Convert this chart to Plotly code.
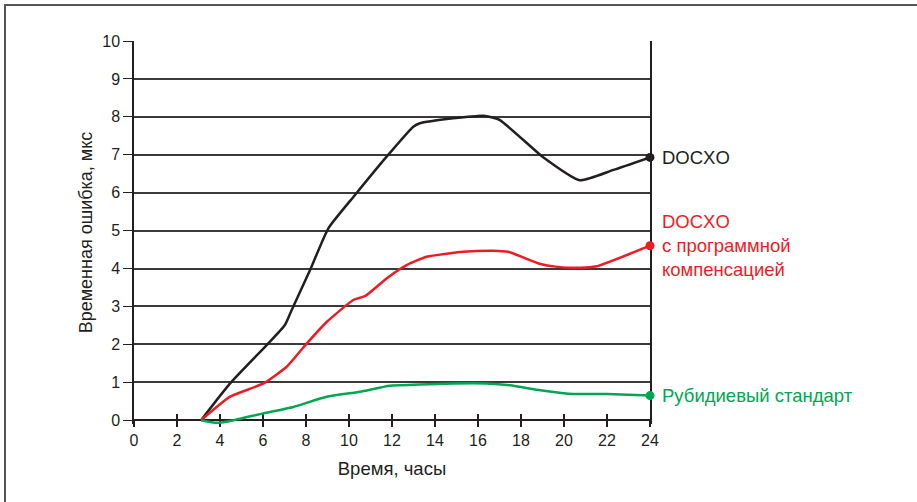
import plotly.graph_objects as go

docxo_x = [3.12, 4.47, 6.17, 7.02, 7.33, 8.19, 9.04, 10.28, 11.75, 12.99, 13.3, 14.85, 16.25, 17.0, 19.0, 20.74, 22.3, 24.0]
docxo_y = [0.0, 0.97, 1.98, 2.51, 2.9, 3.96, 5.06, 5.94, 6.95, 7.74, 7.83, 7.96, 8.03, 7.92, 6.95, 6.33, 6.6, 6.93]

comp_x = [3.12, 4.47, 6.02, 7.1, 8.03, 8.96, 10.2, 10.74, 11.75, 12.68, 13.61, 15.32, 16.71, 17.4, 18.9, 19.6, 20.74, 21.52, 24.0]
comp_y = [0.0, 0.62, 0.97, 1.41, 2.02, 2.59, 3.17, 3.27, 3.74, 4.09, 4.31, 4.44, 4.47, 4.44, 4.12, 4.05, 4.02, 4.06, 4.6]

rb_x = [3.12, 3.85, 4.47, 6.02, 7.41, 8.96, 10.51, 11.9, 13.3, 14.85, 16.4, 17.49, 18.9, 20.2, 22.0, 24.0]
rb_y = [0.0, -0.07, -0.02, 0.18, 0.35, 0.62, 0.75, 0.91, 0.94, 0.97, 0.97, 0.92, 0.79, 0.70, 0.69, 0.65]

x_ticks = list(range(0, 25, 2))
y_ticks = list(range(0, 11))

FONT = "Liberation Sans, Arial, sans-serif"
LABEL_SIZE = 18.5
Y_MIN = -0.1
XPOS = (0 - Y_MIN) / (10 - Y_MIN)

fig = go.Figure()
series = [
    (docxo_x, docxo_y, "#231f20"),
    (comp_x, comp_y, "#ed1c24"),
    (rb_x, rb_y, "#00a651"),
]
for xs, ys, c in series:
    fig.add_trace(go.Scatter(x=xs, y=ys, mode="lines", line=dict(color=c, width=2.5, shape="spline", smoothing=0.5),
                             hoverinfo="skip", showlegend=False, cliponaxis=False))
    fig.add_trace(go.Scatter(x=[xs[-1]], y=[ys[-1]], mode="markers", marker=dict(color=c, size=9),
                             showlegend=False, cliponaxis=False))

# invisible trace for overlay axis (inner tick marks)
fig.add_trace(go.Scatter(x=[0, 24], y=[0, 0], xaxis="x2", mode="lines", line=dict(width=0), opacity=0,
                         showlegend=False, hoverinfo="skip"))

fig.add_annotation(x=24, y=docxo_y[-1], text="DOCXO", xanchor="left", yanchor="middle", xshift=10,
                   showarrow=False, font=dict(color="#231f20", size=LABEL_SIZE, family=FONT))
fig.add_annotation(x=24, y=comp_y[-1], text="DOCXO<br>с программной<br>компенсацией", xanchor="left",
                   yanchor="middle", xshift=10, align="left", showarrow=False,
                   font=dict(color="#ed1c24", size=LABEL_SIZE, family=FONT))
fig.add_annotation(x=24, y=rb_y[-1], text="Рубидиевый стандарт", xanchor="left", yanchor="middle", xshift=10,
                   showarrow=False, font=dict(color="#00a651", size=LABEL_SIZE, family=FONT))

# figure frame (top & left edges visible)
fig.add_shape(type="rect", xref="paper", yref="paper", x0=(5 - 134) / 516, x1=2.0,
              y0=-1.0, y1=(424 - 5) / 383, line=dict(color="#555555", width=2), layer="below")

fig.update_layout(
    width=917, height=502,
    margin=dict(l=134, r=267, t=41, b=78),
    plot_bgcolor="white", paper_bgcolor="white",
    font=dict(family=FONT, color="#231f20", size=16),
    xaxis=dict(range=[0, 24], tickvals=x_ticks, ticks="outside", ticklen=6, tickwidth=1.5, tickcolor="#231f20",
               anchor="free", position=XPOS,
               showline=True, linecolor="#231f20", linewidth=1.5, showgrid=False, zeroline=False,
               layer="below traces",
               tickfont=dict(size=16, color="#231f20"),
               title=dict(text="Время, часы", font=dict(size=18.5, color="#231f20"), standoff=13)),
    xaxis2=dict(range=[0, 24], overlaying="x", anchor="free", position=XPOS, tickvals=x_ticks, ticks="inside",
                ticklen=6, tickwidth=1.5, tickcolor="#231f20", showticklabels=False, showgrid=False,
                zeroline=False, side="bottom", layer="below traces"),
    yaxis=dict(range=[Y_MIN, 10], tickvals=y_ticks, ticks="outside", ticklen=9, tickwidth=1.2, tickcolor="#231f20",
               showline=True, linecolor="#231f20", linewidth=1.5, mirror=True,
               showgrid=True, gridcolor="#3a3a3a", gridwidth=1.5, zeroline=False,
               layer="below traces",
               tickfont=dict(size=16, color="#231f20"),
               title=dict(text="Временная ошибка, мкс", font=dict(size=18, color="#231f20"), standoff=5)),
)

fig.write_html("out.html", config={"displayModeBar": False},
               post_script="document.body.style.margin='0';")
